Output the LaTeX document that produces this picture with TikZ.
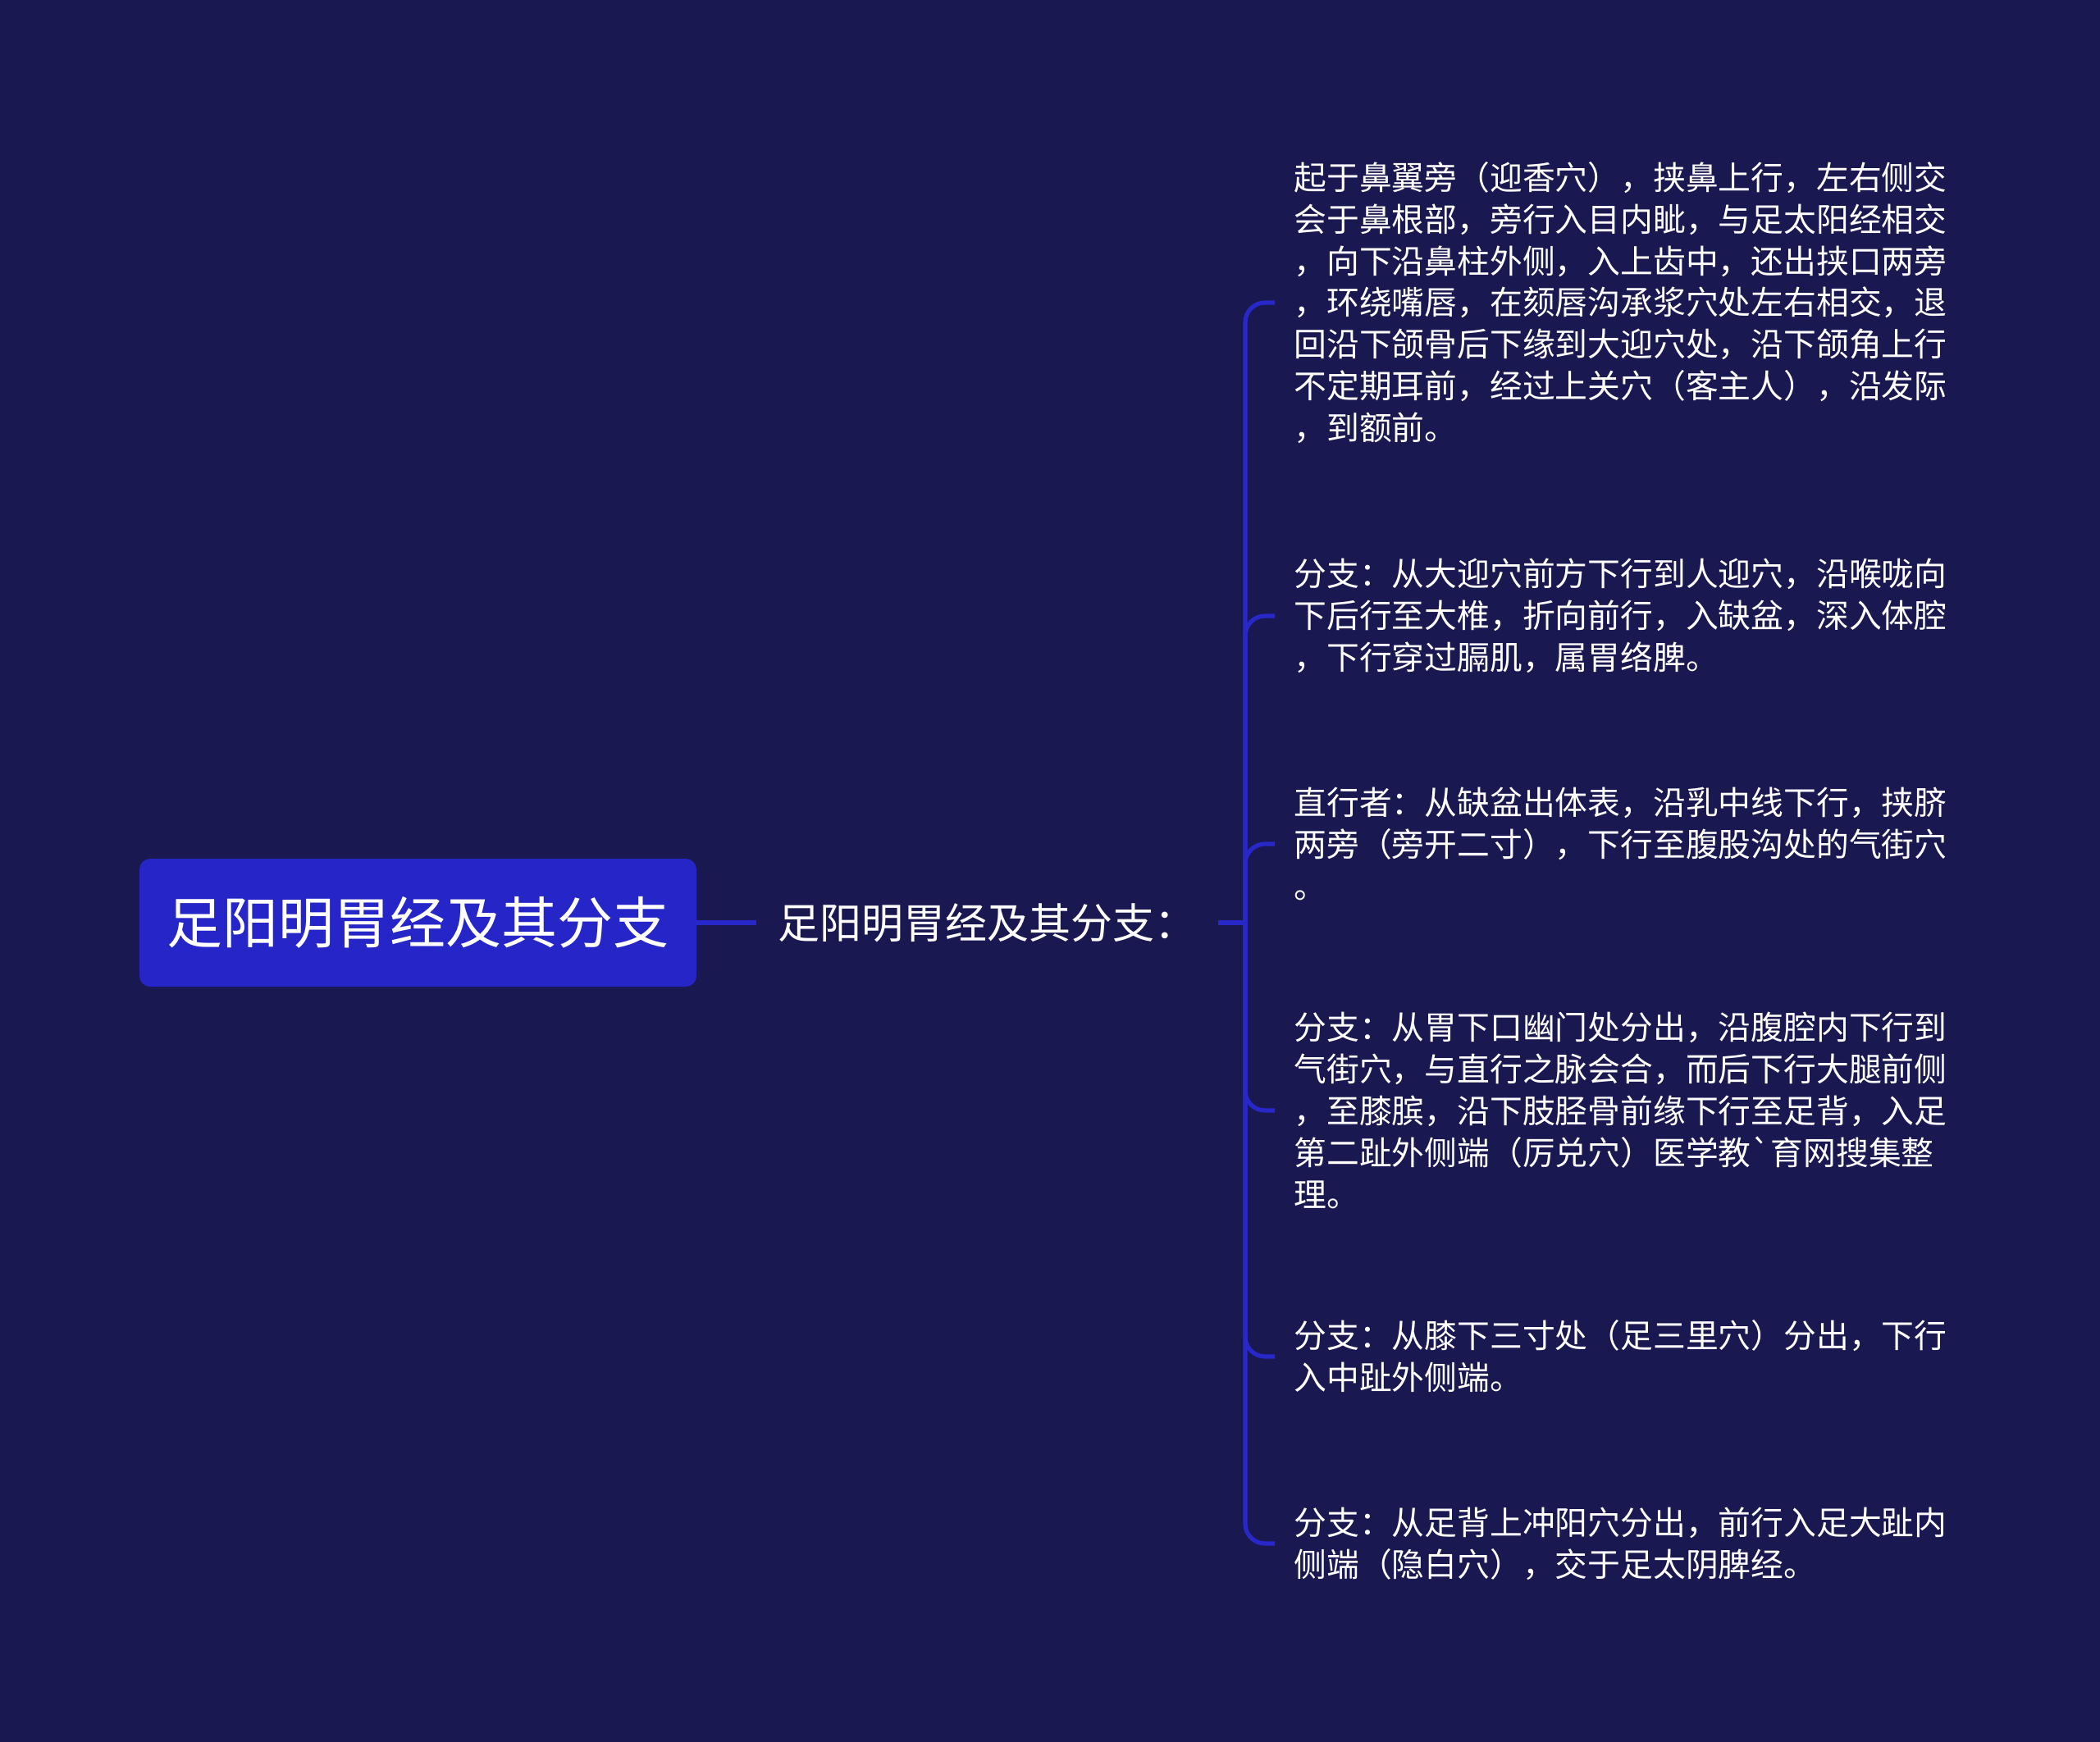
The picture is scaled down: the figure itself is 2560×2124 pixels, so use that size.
\documentclass[tikz,border=0pt]{standalone}
\usepackage{fontspec}
\setmainfont{Noto Sans CJK SC}[Ligatures=TeXOff]
\usepackage{tikz}

\definecolor{bgnavy}{RGB}{26,24,80}
\definecolor{rootblue}{RGB}{38,38,200}
\definecolor{linkblue}{RGB}{40,40,200}

\tikzset{
  rootbox/.style={fill=rootblue, rounded corners=6.5pt, text=white,
    minimum width=339.5pt, minimum height=78pt,
    font=\fontsize{34pt}{40pt}\selectfont},
  midlabel/.style={text=white, inner xsep=13pt,
    font=\fontsize{25.5pt}{30pt}\selectfont},
  leaf/.style={text=white, anchor=west, align=left, inner xsep=11.5pt, inner ysep=0pt,
    font=\fontsize{19.9pt}{25.45pt}\selectfont},
  link/.style={draw=linkblue, line width=2.6pt}
}

\begin{document}
\begin{tikzpicture}[x=0.5pt,y=-0.5pt]
        \fill[bgnavy] (0,0) rectangle (2560,2124);
        \useasboundingbox (0,0) rectangle (2560,2124);

        \node[rootbox] (root) at (509.5,1125) {足阳明胃经及其分支};
        \node[midlabel, anchor=west] (mid) at (922,1125) {足阳明胃经及其分支：};
        \coordinate (fork) at (1518,1125);

        \node[leaf] (b1) at (1554,369) {起于鼻翼旁（迎香穴），挟鼻上行，左右侧交\\
会于鼻根部，旁行入目内眦，与足太阳经相交\\
，向下沿鼻柱外侧，入上齿中，还出挟口两旁\\
，环绕嘴唇，在颏唇沟承浆穴处左右相交，退\\
回沿下颌骨后下缘到大迎穴处，沿下颌角上行\\
不定期耳前，经过上关穴（客主人），沿发际\\
，到额前。};
        \node[leaf] (b2) at (1554,751) {分支：从大迎穴前方下行到人迎穴，沿喉咙向\\
下后行至大椎，折向前行，入缺盆，深入体腔\\
，下行穿过膈肌，属胃络脾。};
        \node[leaf] (b3) at (1554,1029) {直行者：从缺盆出体表，沿乳中线下行，挟脐\\
两旁（旁开二寸），下行至腹股沟处的气街穴\\
。};
        \node[leaf] (b4) at (1554,1354) {分支：从胃下口幽门处分出，沿腹腔内下行到\\
气街穴，与直行之脉会合，而后下行大腿前侧\\
，至膝膑，沿下肢胫骨前缘下行至足背，入足\\
第二趾外侧端（厉兑穴）医学教`育网搜集整\\
理。};
        \node[leaf] (b5) at (1554,1654) {分支：从膝下三寸处（足三里穴）分出，下行\\
入中趾外侧端。};
        \node[leaf] (b6) at (1554,1882) {分支：从足背上冲阳穴分出，前行入足大趾内\\
侧端（隐白穴），交于足太阴脾经。};

        \draw[link] (root) -- (mid);
        \draw[link] (mid) -- (fork);
        \foreach \b in {b1,b2,b3,b4,b5,b6}
            \draw[link, rounded corners=12pt] (fork) |- (\b.west);

    \end{tikzpicture}
\end{document}
